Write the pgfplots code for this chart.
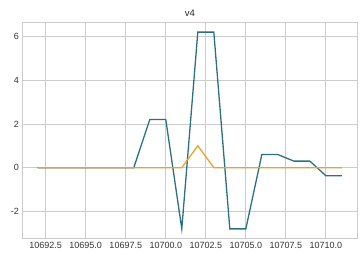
\documentclass[border=0pt]{standalone}
\usepackage{fontspec}
\setmainfont{Liberation Sans}
\usepackage{pgfplots}
\pgfplotsset{compat=1.18}
\definecolor{tealc}{RGB}{45,112,130}
\definecolor{orangec}{RGB}{235,162,50}
\definecolor{gridc}{RGB}{204,204,204}
\begin{document}
\begin{tikzpicture}
\begin{axis}[
  scale only axis,
  width=334.6pt, height=216.4pt,
  xmin=10691.05, xmax=10711.95,
  ymin=-3.25, ymax=6.65,
  xtick={10692.5,10695,10697.5,10700,10702.5,10705,10707.5,10710},
  ytick={-2,0,2,4,6},
  xticklabel style={/pgf/number format/.cd,fixed,fixed zerofill,precision=1,1000 sep={}},
  /pgf/number format/assume math mode=true,
  tick label style={font=\fontsize{9}{11}\selectfont, text=black!80},
  grid=major,
  major grid style={gridc, line width=0.8pt},
  axis line style={gridc, line width=0.8pt},
  tick style={draw=none},
  title={v4},
  title style={font=\fontsize{9.5}{11}\selectfont, text=black!85, yshift=-4pt},
  scaled x ticks=false,
]
\addplot[tealc, line width=1.3pt] coordinates {
(10692,0) (10693,0) (10694,0) (10695,0) (10696,0) (10697,0) (10698,0)
(10699,2.2) (10700,2.2) (10701,-2.8) (10702,6.2) (10703,6.2)
(10704,-2.8) (10705,-2.8) (10706,0.6) (10707,0.6) (10708,0.3) (10709,0.3)
(10710,-0.37) (10711,-0.37)};
\addplot[orangec, line width=1.3pt] coordinates {
(10692,0) (10693,0) (10694,0) (10695,0) (10696,0) (10697,0) (10698,0)
(10699,0) (10700,0) (10701,0) (10702,1) (10703,0)
(10704,0) (10705,0) (10706,0) (10707,0) (10708,0) (10709,0)
(10710,0) (10711,0)};
\end{axis}
\pgfresetboundingbox
\path[use as bounding box] (-22.5pt,-21.3pt) rectangle (341.5pt,238.7pt);
\end{tikzpicture}
\end{document}
